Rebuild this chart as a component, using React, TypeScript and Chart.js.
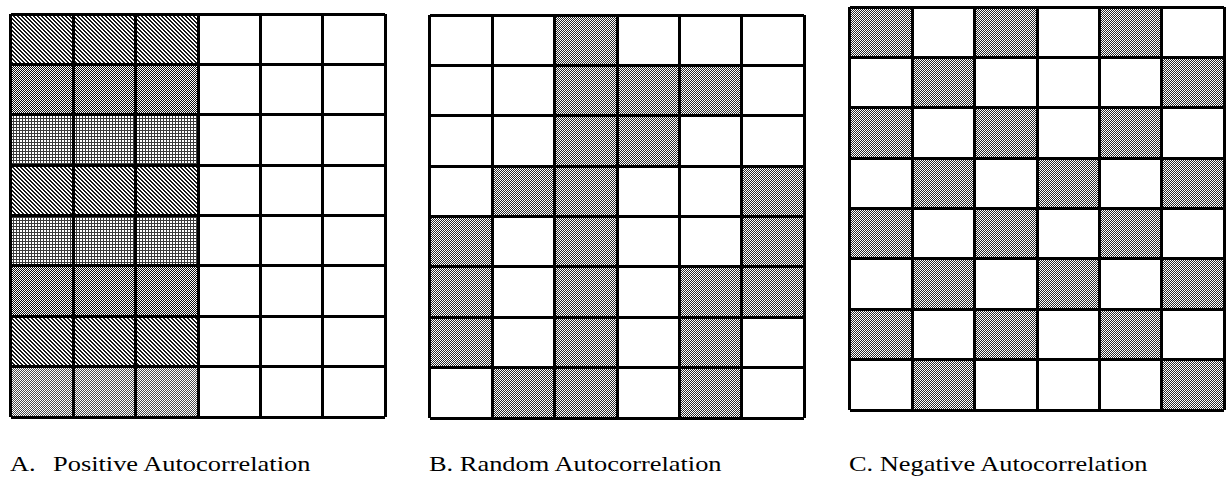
import React, { useEffect, useRef } from 'react';
import { Chart, registerables } from 'chart.js';

Chart.register(...registerables);

// ---- data ----
const columns = ['1', '2', '3', '4', '5', '6'];
const rowLabels = ['1', '2', '3', '4', '5', '6', '7', '8'];
const cellHeight = 1;
// fill codes: 0 = empty, 1 = diagonal hatch, 2 = dotted, 3 = fine grid, 4 = light dotted, 5 = dotted gray
const gridA = [
  [1, 1, 1, 0, 0, 0],
  [2, 2, 2, 0, 0, 0],
  [3, 3, 3, 0, 0, 0],
  [1, 1, 1, 0, 0, 0],
  [3, 3, 3, 0, 0, 0],
  [2, 2, 2, 0, 0, 0],
  [1, 1, 1, 0, 0, 0],
  [4, 4, 4, 0, 0, 0],
];
const gridB = [
  [0, 0, 5, 0, 0, 0],
  [0, 0, 5, 5, 5, 0],
  [0, 0, 5, 5, 0, 0],
  [0, 5, 5, 0, 0, 5],
  [5, 0, 5, 0, 0, 5],
  [5, 0, 5, 0, 5, 5],
  [5, 0, 5, 0, 5, 0],
  [0, 5, 5, 0, 5, 0],
];
const gridC = [
  [5, 0, 5, 0, 5, 0],
  [0, 5, 0, 0, 0, 5],
  [5, 0, 5, 0, 5, 0],
  [0, 5, 0, 5, 0, 5],
  [5, 0, 5, 0, 5, 0],
  [0, 5, 0, 5, 0, 5],
  [5, 0, 5, 0, 5, 0],
  [0, 5, 0, 0, 0, 5],
];
const captionLetters = ['A.', 'B.', 'C.'];
const captionTexts = ['Positive Autocorrelation', 'Random Autocorrelation', 'Negative Autocorrelation'];

// ---- layout ----
const GRID_W = 374;
const GRID_H = 403;
const PAD = 4;
const panels = [
  { grid: gridA, left: 11, top: 14 },
  { grid: gridB, left: 430, top: 15 },
  { grid: gridC, left: 850, top: 7 },
];

function makePattern(ctx: CanvasRenderingContext2D, kind: number): CanvasPattern | string {
  if (kind === 0) return '#ffffff';
  const c = document.createElement('canvas');
  const t = c.getContext('2d') as CanvasRenderingContext2D;
  const size = kind === 1 ? 4 : kind === 3 ? 3 : 2;
  c.width = size;
  c.height = size;
  t.fillStyle = '#ffffff';
  t.fillRect(0, 0, size, size);
  if (kind === 1) {
    t.fillStyle = '#1a1a1a';
    for (let y = 0; y < 4; y++) {
      for (let x = 0; x < 4; x++) {
        if ((x - y + 8) % 4 < 2) t.fillRect(x, y, 1, 1);
      }
    }
  } else if (kind === 2) {
    t.fillStyle = '#111111';
    t.fillRect(0, 0, 1, 1);
    t.fillRect(1, 1, 1, 1);
  } else if (kind === 3) {
    t.fillStyle = '#3a3a3a';
    t.fillRect(0, 0, 3, 1);
    t.fillRect(0, 0, 1, 3);
  } else if (kind === 4) {
    t.fillStyle = '#4a4a4a';
    t.fillRect(0, 0, 1, 1);
    t.fillRect(1, 1, 1, 1);
  } else {
    t.fillStyle = '#2a2a2a';
    t.fillRect(0, 0, 1, 1);
    t.fillRect(1, 1, 1, 1);
  }
  return (ctx.createPattern(c, 'repeat') as CanvasPattern) || '#888888';
}

function GridChart({ grid, left, top }: { grid: number[][]; left: number; top: number }) {
  const ref = useRef<HTMLCanvasElement | null>(null);
  useEffect(() => {
    const canvas = ref.current as HTMLCanvasElement;
    const ctx = canvas.getContext('2d') as CanvasRenderingContext2D;
    const cache: Record<number, CanvasPattern | string> = {};
    const fill = (k: number) => {
      if (!(k in cache)) cache[k] = makePattern(ctx, k);
      return cache[k];
    };
    const datasets = grid.map((row, r) => ({
      label: rowLabels[r],
      data: row.map(() => cellHeight),
      backgroundColor: row.map((k) => fill(k)),
      borderWidth: 0,
      barPercentage: 1,
      categoryPercentage: 1,
    }));
    const nRows = rowLabels.length;
    const chart = new Chart(canvas, {
      type: 'bar',
      data: { labels: columns, datasets: datasets as any },
      options: {
        animation: false,
        responsive: false,
        devicePixelRatio: 1,
        events: [],
        layout: { padding: { left: PAD, right: PAD, top: PAD, bottom: PAD } },
        plugins: { legend: { display: false }, tooltip: { enabled: false }, title: { display: false } },
        scales: {
          x: {
            type: 'category',
            stacked: true,
            offset: true,
            ticks: { display: false },
            border: { display: false },
            grid: {
              offset: true,
              drawTicks: false,
              color: '#000000',
              z: 1,
              lineWidth: 3,
            },
          },
          y: {
            type: 'linear',
            stacked: true,
            reverse: true,
            min: 0,
            max: nRows,
            ticks: { display: false, stepSize: 1 },
            border: { display: false },
            grid: {
              drawTicks: false,
              color: '#000000',
              z: 1,
              lineWidth: 3,
            },
          },
        },
      } as any,
    });
    return () => chart.destroy();
  }, [grid]);
  const W = GRID_W + 2 * PAD;
  const H = GRID_H + 2 * PAD;
  return (
    <canvas
      ref={ref}
      width={W}
      height={H}
      style={{ position: 'absolute', left: left - PAD, top: top - PAD, width: W, height: H }}
    />
  );
}

const captionStyle: React.CSSProperties = {
  position: 'absolute',
  top: 453,
  fontFamily: '"Liberation Serif", "Times New Roman", Times, serif',
  fontSize: 22,
  lineHeight: '22px',
  color: '#000',
  whiteSpace: 'nowrap',
  transform: 'scaleX(1.2)',
  transformOrigin: 'left top',
};

export default function App() {
  return (
    <div
      style={{
        position: 'absolute',
        left: 0,
        top: 0,
        width: 1226,
        height: 479,
        overflow: 'hidden',
        background: '#ffffff',
      }}
    >
      {panels.map((p, i) => (
        <GridChart key={i} grid={p.grid} left={p.left} top={p.top} />
      ))}
      <span style={{ ...captionStyle, left: 10 }}>{captionLetters[0]}</span>
      <span style={{ ...captionStyle, left: 53 }}>{captionTexts[0]}</span>
      <span style={{ ...captionStyle, left: 429 }}>{captionLetters[1] + ' ' + captionTexts[1]}</span>
      <span style={{ ...captionStyle, left: 849 }}>{captionLetters[2] + ' ' + captionTexts[2]}</span>
    </div>
  );
}
